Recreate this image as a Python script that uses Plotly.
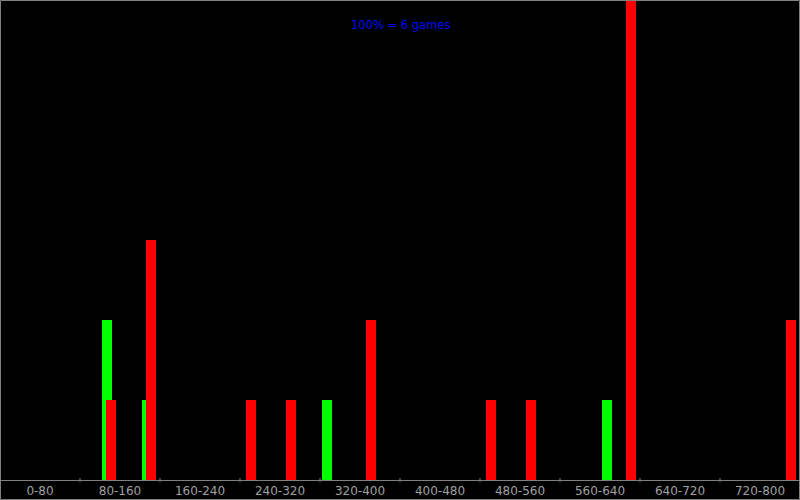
import plotly.graph_objects as go

# Data (games per score bucket position)
green_x = [107, 147, 327, 607]
green_y = [2, 1, 1, 1]
red_x = [111, 151, 251, 291, 371, 491, 531, 631, 791]
red_y = [1, 3, 1, 1, 2, 1, 1, 6, 2]

bin_edges = [0, 80, 160, 240, 320, 400, 480, 560, 640, 720, 800]
bin_labels = ["0-80", "80-160", "160-240", "240-320", "320-400",
              "400-480", "480-560", "560-640", "640-720", "720-800"]
total_games = 6
title_text = "100% = 6 games"

W, H = 800, 500
axis_px = 20  # bottom band height for labels

fig = go.Figure()
fig.add_trace(go.Bar(x=green_x, y=green_y, width=10,
                     marker=dict(color="#00ff00", line=dict(width=0)),
                     hoverinfo="skip"))
fig.add_trace(go.Bar(x=red_x, y=red_y, width=10,
                     marker=dict(color="#ff0000", line=dict(width=0)),
                     hoverinfo="skip"))

centers = [(bin_edges[i] + bin_edges[i + 1]) / 2 for i in range(len(bin_labels))]

shapes = []
ybase = axis_px / H
for b in bin_edges[1:-1]:
    shapes.append(dict(type="line", xref="x", yref="paper", x0=b, x1=b,
                       y0=ybase - 2 / H, y1=ybase + 2 / H,
                       line=dict(color="#808080", width=1)))
shapes.append(dict(type="rect", xref="paper", yref="paper",
                   x0=0.5 / W, x1=(W - 0.5) / W, y0=0.5 / H, y1=(H - 0.5) / H,
                   line=dict(color="#808080", width=1)))

fig.update_layout(
    width=W, height=H,
    margin=dict(l=0, r=0, t=0, b=0),
    paper_bgcolor="#000000", plot_bgcolor="#000000",
    barmode="overlay", bargap=0,
    showlegend=False,
    shapes=shapes,
    xaxis=dict(range=[0, 800], tickvals=centers, ticktext=bin_labels,
               ticks="", showgrid=False, zeroline=False,
               showline=True, linecolor="#808080", linewidth=1,
               tickfont=dict(family="DejaVu Sans", size=12, color="#a0a0a0"),
               fixedrange=True),
    yaxis=dict(range=[0, total_games], domain=[ybase, 1], visible=False,
               showgrid=False, zeroline=False, fixedrange=True),
    annotations=[dict(text=title_text, xref="paper", yref="paper",
                      x=0.5, y=1 - 25 / H, xanchor="center", yanchor="middle",
                      showarrow=False,
                      font=dict(family="DejaVu Sans", size=11.5, color="#0000ff"))],
)

fig.write_html("out.html", config={"displayModeBar": False},
               post_script="document.body.style.margin='0';document.body.style.background='#000';")
